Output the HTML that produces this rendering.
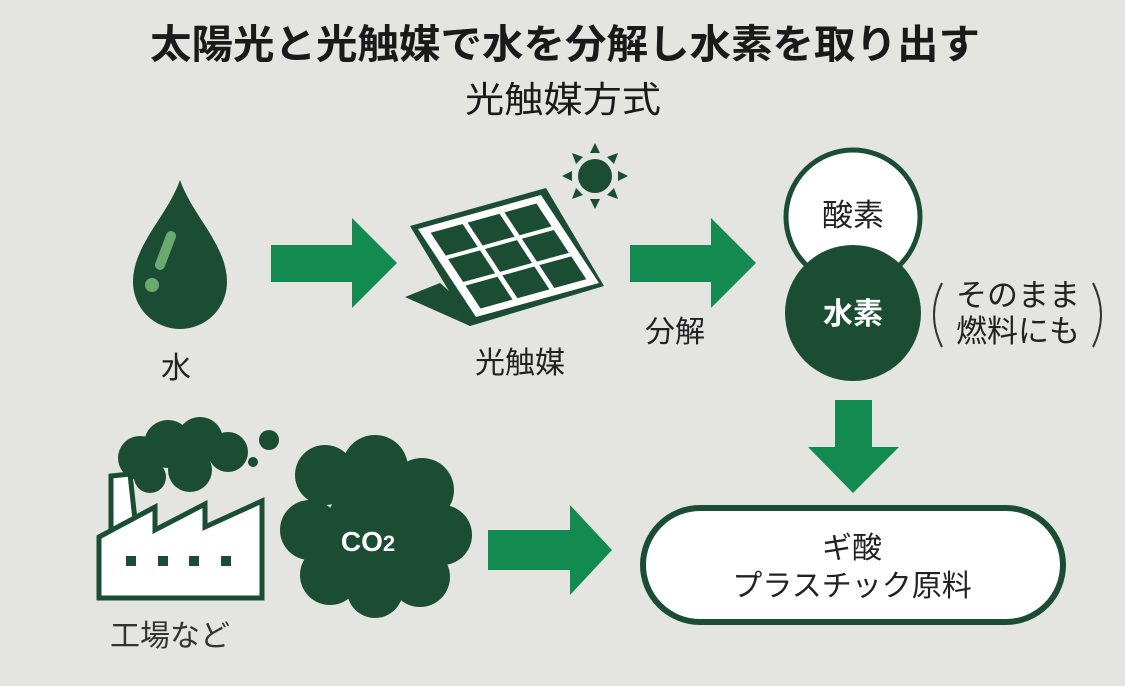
<!DOCTYPE html>
<html><head><meta charset="utf-8"><style>
html,body{margin:0;padding:0;background:#e4e4e0;}
svg{display:block;}
text{font-family:"Liberation Sans","Noto Sans CJK JP",sans-serif;}
</style></head><body>
<svg width="1125" height="686" viewBox="0 0 1125 686" xmlns="http://www.w3.org/2000/svg">
<rect width="1125" height="686" fill="#e4e4e0"/>
<text x="565" y="58" font-size="40" font-weight="bold" fill="#1a1a1a" text-anchor="middle" textLength="830" lengthAdjust="spacingAndGlyphs">太陽光と光触媒で水を分解し水素を取り出す</text>
<text x="563" y="112" font-size="36" fill="#1a1a1a" text-anchor="middle" textLength="196" lengthAdjust="spacingAndGlyphs">光触媒方式</text>

<!-- drop -->
<path d="M180,180 C168,215 133,245 133,282 A47,47 0 0 0 227,282 C227,245 192,215 180,180 Z" fill="#1b4d35"/>
<line x1="171" y1="236" x2="160" y2="265" stroke="#6aaa6f" stroke-width="10" stroke-linecap="round"/>
<circle cx="152" cy="285" r="7" fill="#6aaa6f"/>
<text x="176" y="378" font-size="30" fill="#222" text-anchor="middle">水</text>

<!-- arrows -->
<g fill="#138a4f">
<polygon points="271,245 352,245 352,218 397,263 352,308 352,282 271,282"/>
<polygon points="630,245 711,245 711,218 756,263 711,308 711,282 630,282"/>
<polygon points="488,530 570,530 570,505 612,550 570,595 570,570 488,570"/>
<polygon points="835,400 872,400 872,447 899,447 853,493 808,447 835,447"/>
</g>

<!-- solar panel -->
<polygon points="405,297 440,283 480,318 470,326" fill="#1b4d35"/>
<polygon points="410,226 546,188 604,286 470,326" fill="#1b4d35"/>
<g transform="matrix(123,-34,58,88,418,229)">
<polygon points="0,0 1,0 1,1 0,1" fill="#fff"/>
<g fill="#1b4d35">
<rect x="0.07" y="0.07" width="0.26" height="0.26"/>
<rect x="0.37" y="0.07" width="0.26" height="0.26"/>
<rect x="0.67" y="0.07" width="0.26" height="0.26"/>
<rect x="0.07" y="0.37" width="0.26" height="0.26"/>
<rect x="0.37" y="0.37" width="0.26" height="0.26"/>
<rect x="0.67" y="0.37" width="0.26" height="0.26"/>
<rect x="0.07" y="0.67" width="0.26" height="0.26"/>
<rect x="0.37" y="0.67" width="0.26" height="0.26"/>
<rect x="0.67" y="0.67" width="0.26" height="0.26"/>
</g>
</g>
<!-- sun -->
<g fill="#1b4d35">
<circle cx="595" cy="176" r="17"/>
<polygon points="595,143 590,153 600,153"/>
<polygon points="595,209 590,199 600,199"/>
<polygon points="562,176 572,171 572,181"/>
<polygon points="628,176 618,171 618,181"/>
<polygon points="572,153 576,164 583,157"/>
<polygon points="618,153 614,164 607,157"/>
<polygon points="572,199 576,188 583,195"/>
<polygon points="618,199 614,188 607,195"/>
</g>
<text x="520" y="373" font-size="30" fill="#222" text-anchor="middle">光触媒</text>
<text x="675" y="342" font-size="30" fill="#222" text-anchor="middle">分解</text>

<!-- circles -->
<circle cx="853" cy="217" r="67" fill="#fff" stroke="#1b4d35" stroke-width="5"/>
<circle cx="853" cy="313" r="68" fill="#1b4d35"/>
<text x="853" y="226" font-size="31" fill="#222" text-anchor="middle">酸素</text>
<text x="853" y="324" font-size="30" font-weight="bold" fill="#fff" text-anchor="middle">水素</text>
<path d="M942,283 Q926,315 942,347" fill="none" stroke="#333" stroke-width="2"/>
<path d="M1093,283 Q1109,315 1093,347" fill="none" stroke="#333" stroke-width="2"/>
<text x="1018" y="306" font-size="31" fill="#222" text-anchor="middle">そのまま</text>
<text x="1018" y="342" font-size="31" fill="#222" text-anchor="middle">燃料にも</text>

<!-- result box -->
<rect x="643" y="508" width="420" height="114" rx="57" fill="#fff" stroke="#1b4d35" stroke-width="6"/>
<text x="852" y="558" font-size="30" fill="#222" text-anchor="middle">ギ酸</text>
<text x="852" y="596" font-size="30" fill="#222" text-anchor="middle">プラスチック原料</text>

<!-- factory -->
<g fill="#1b4d35">
<circle cx="140" cy="458" r="22"/><circle cx="168" cy="444" r="24"/><circle cx="200" cy="440" r="23"/>
<circle cx="228" cy="452" r="20"/><circle cx="190" cy="470" r="22"/><circle cx="150" cy="477" r="16"/>
<circle cx="269" cy="440" r="10"/><circle cx="253" cy="462" r="5"/>
</g>
<polygon points="111,476 130,474 135,520 111,535" fill="#fff" stroke="#1b4d35" stroke-width="5"/>
<polygon points="99,537 155,507 155,530 205,504 205,527 262,501 262,598 99,598" fill="#fff" stroke="#1b4d35" stroke-width="5" stroke-linejoin="miter"/>
<g fill="#1b4d35">
<rect x="126" y="556" width="10" height="10"/><rect x="158" y="556" width="10" height="10"/>
<rect x="189" y="556" width="10" height="10"/><rect x="221" y="556" width="10" height="10"/>
</g>
<text x="170" y="646" font-size="30" fill="#333" text-anchor="middle">工場など</text>

<!-- CO2 cloud -->
<g fill="#1b4d35">
<circle cx="325" cy="475" r="30"/><circle cx="375" cy="468" r="33"/><circle cx="422" cy="490" r="32"/>
<circle cx="442" cy="535" r="30"/><circle cx="420" cy="577" r="30"/><circle cx="375" cy="590" r="28"/>
<circle cx="330" cy="575" r="30"/><circle cx="310" cy="530" r="30"/><circle cx="375" cy="530" r="50"/>
</g>
<text x="368" y="551" font-size="28" font-weight="bold" fill="#fff" text-anchor="middle">CO<tspan font-size="22">2</tspan></text>
</svg>
</body></html>
